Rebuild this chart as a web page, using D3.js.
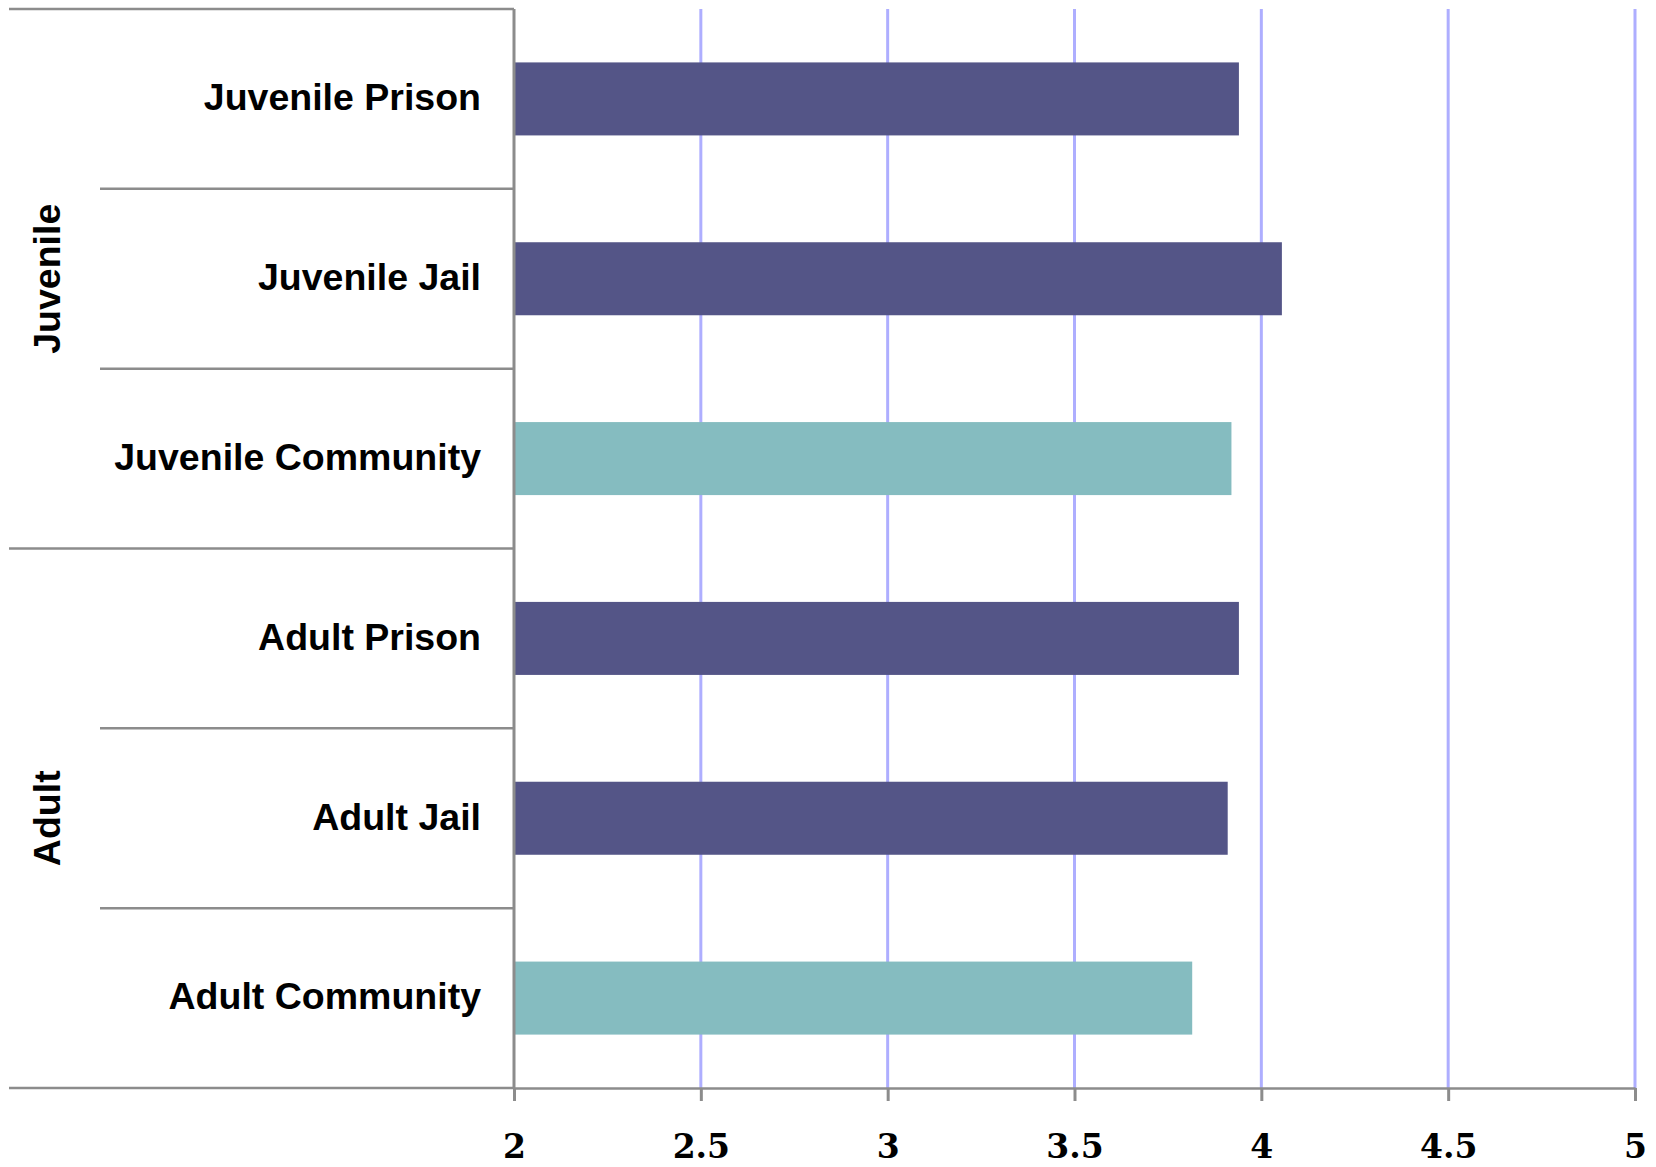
<!DOCTYPE html>
<html>
<head>
<meta charset="utf-8">
<script src="https://cdn.jsdelivr.net/npm/d3@7"></script>
<style>
  html, body { margin: 0; padding: 0; background: #fff; }
  svg { display: block; }
</style>
</head>
<body>
<svg id="chart" width="1656" height="1167"></svg>
<script>
// ---- data ----
const categories = ["Juvenile Prison", "Juvenile Jail", "Juvenile Community", "Adult Prison", "Adult Jail", "Adult Community"];
const groups = ["Juvenile", "Juvenile", "Juvenile", "Adult", "Adult", "Adult"];
const groupNames = ["Juvenile", "Adult"];
const values = [3.94, 4.055, 3.92, 3.94, 3.91, 3.815];
const kinds = ["custody", "custody", "community", "custody", "custody", "community"];
const tickValues = [2, 2.5, 3, 3.5, 4, 4.5, 5];
const tickLabels = ["2", "2.5", "3", "3.5", "4", "4.5", "5"];

// ---- layout ----
const svg = d3.select("#chart");
const plotLeft = 514, plotRight = 1635, plotTop = 9, plotBottom = 1088;
const color = d3.scaleOrdinal().domain(["custody", "community"]).range(["#545587", "#85bcc0"]);

const x = d3.scaleLinear().domain([2, 5]).range([plotLeft, plotRight]);
const rows = d3.scaleBand().domain(categories).range([plotTop, plotBottom]).padding(0);
const y = d3.scaleBand().domain(categories).range([plotTop, plotBottom]).paddingInner(0.594).paddingOuter(0.297);

const gray = "#8c8c8c";

// gridlines
svg.append("g").selectAll("line").data(tickValues.filter(v => v > 2)).join("line")
  .attr("x1", d => x(d)).attr("x2", d => x(d))
  .attr("y1", plotTop).attr("y2", plotBottom)
  .attr("stroke", "#aeaeff").attr("stroke-width", 3);

// bars
svg.append("g").selectAll("rect").data(categories).join("rect")
  .attr("x", x(2))
  .attr("y", d => y(d))
  .attr("width", (d, i) => x(values[i]) - x(2))
  .attr("height", y.bandwidth())
  .attr("fill", (d, i) => color(kinds[i]));

// left table lines
const grpStart = i => i === 0 || groups[i] !== groups[i - 1];
const sep = svg.append("g").attr("stroke", gray).attr("stroke-width", 2.5);
categories.forEach((c, i) => {
  sep.append("line")
    .attr("x1", grpStart(i) ? 9 : 100).attr("x2", plotLeft)
    .attr("y1", rows(c)).attr("y2", rows(c));
});
sep.append("line").attr("x1", 9).attr("x2", plotLeft).attr("y1", plotBottom).attr("y2", plotBottom);

// vertical axis line
svg.append("line").attr("x1", plotLeft).attr("x2", plotLeft)
  .attr("y1", plotTop).attr("y2", plotBottom)
  .attr("stroke", gray).attr("stroke-width", 3);

// x axis
const xAxis = d3.axisBottom(x).tickValues(tickValues)
  .tickFormat((d, i) => tickLabels[i]).tickSize(13).tickSizeOuter(0).tickPadding(34);
const ax = svg.append("g").attr("transform", `translate(0,${plotBottom})`).call(xAxis);
ax.select(".domain").attr("stroke", gray).attr("stroke-width", 2.5);
ax.selectAll(".tick line").attr("stroke", gray).attr("stroke-width", 3);
ax.selectAll(".tick text")
  .attr("fill", "#000")
  .style("font-family", "'DejaVu Serif', serif")
  .style("font-weight", "bold")
  .style("font-size", "33px");

// category labels
svg.append("g").selectAll("text").data(categories).join("text")
  .attr("x", 481)
  .attr("y", d => rows(d) + rows.bandwidth() / 2)
  .attr("dy", "0.3em")
  .attr("text-anchor", "end")
  .style("font-family", "'Liberation Sans', Arial, sans-serif")
  .style("font-weight", "bold")
  .style("font-size", "37.5px")
  .attr("fill", "#000")
  .text(d => d);

// group labels
groupNames.forEach(g => {
  const members = categories.filter((c, i) => groups[i] === g);
  const top = rows(members[0]);
  const bottom = rows(members[members.length - 1]) + rows.bandwidth();
  const cy = (top + bottom) / 2;
  svg.append("text")
    .attr("transform", `translate(46,${cy}) rotate(-90)`)
    .attr("dy", "0.36em")
    .attr("text-anchor", "middle")
    .style("font-family", "'Liberation Sans', Arial, sans-serif")
    .style("font-weight", "bold")
    .style("font-size", "37.5px")
    .attr("fill", "#000")
    .text(g);
});
</script>
</body>
</html>
